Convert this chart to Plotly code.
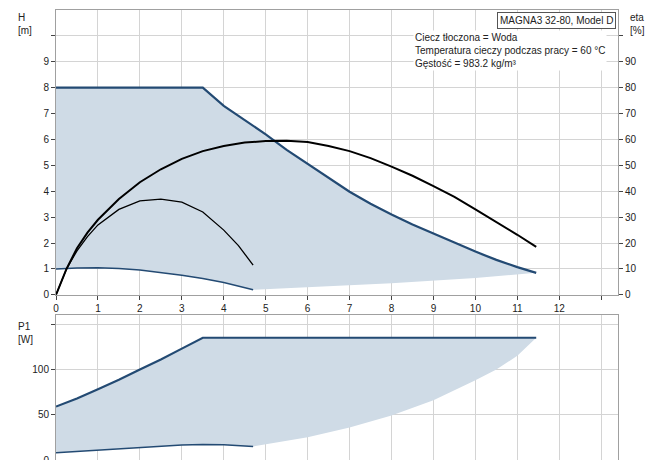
import plotly.graph_objects as go
from plotly.subplots import make_subplots

q_max = [0, 3.5, 4, 4.5, 5, 5.5, 6, 6.5, 7, 7.5, 8, 8.5, 9, 9.5, 10, 10.5, 11, 11.45]
h_max = [8, 8, 7.3, 6.75, 6.2, 5.6, 5.05, 4.5, 3.98, 3.52, 3.1, 2.72, 2.36, 2.0, 1.67, 1.35, 1.07, 0.85]
q_min = [0, 0.5, 1, 1.5, 2, 2.5, 3, 3.5, 4, 4.7]
h_min = [1.0, 1.04, 1.05, 1.02, 0.96, 0.87, 0.76, 0.63, 0.48, 0.2]
q_low = [4.7, 6, 8, 10, 11.45]
h_low = [0.2, 0.3, 0.45, 0.65, 0.85]
q_eta = [0, 0.25, 0.5, 0.75, 1, 1.5, 2, 2.5, 3, 3.5, 4, 4.5, 5, 5.5, 6, 6.5, 7, 7.5, 8, 8.5, 9, 9.5, 10, 10.5, 11, 11.45]
eta_max = [0, 10, 18, 24, 29, 37, 43.5, 48.5, 52.5, 55.5, 57.5, 58.8, 59.4, 59.5, 59, 57.5, 55.5, 52.8, 49.5, 46, 42, 37.8, 33, 28.2, 23.2, 18.5]
q_eta2 = [0, 0.25, 0.5, 0.75, 1, 1.5, 2, 2.5, 3, 3.5, 4, 4.35, 4.7]
eta_min = [0, 10, 17, 22.5, 27, 33, 36.3, 37, 35.8, 32, 25, 19, 11.5]
q_pmax = [0, 0.5, 1, 1.5, 2, 2.5, 3, 3.5, 11.45]
p_max = [59, 68, 78, 88.5, 100, 111, 123, 135, 135]
q_pmin = [0, 1, 2, 3, 3.5, 4, 4.7]
p_min = [8, 11, 14, 16.5, 17, 16.8, 15]
q_plow = [4.7, 6, 7, 8, 9, 10, 10.5, 11, 11.45]
p_low = [15, 25, 36, 49, 66, 88, 100, 115, 135]

LINE = "#234a73"
FILL = "#cfdbe6"
fig = make_subplots(rows=2, cols=1, specs=[[{"secondary_y": True}], [{}]])

fx = q_max + q_low[::-1] + q_min[::-1]
fy = h_max + h_low[::-1] + h_min[::-1]
fig.add_trace(go.Scatter(x=fx, y=fy, fill="toself", fillcolor=FILL, line=dict(width=0), mode="lines"), row=1, col=1)
fig.add_trace(go.Scatter(x=q_max, y=h_max, mode="lines", line=dict(color=LINE, width=2.2)), row=1, col=1)
fig.add_trace(go.Scatter(x=q_min, y=h_min, mode="lines", line=dict(color=LINE, width=1.5)), row=1, col=1)
fig.add_trace(go.Scatter(x=q_eta, y=eta_max, mode="lines", line=dict(color="black", width=2)), row=1, col=1, secondary_y=True)
fig.add_trace(go.Scatter(x=q_eta2, y=eta_min, mode="lines", line=dict(color="black", width=1.3)), row=1, col=1, secondary_y=True)

px = q_pmax + q_plow[::-1] + q_pmin[::-1]
py = p_max + p_low[::-1] + p_min[::-1]
fig.add_trace(go.Scatter(x=px, y=py, fill="toself", fillcolor=FILL, line=dict(width=0), mode="lines"), row=2, col=1)
fig.add_trace(go.Scatter(x=q_pmax, y=p_max, mode="lines", line=dict(color=LINE, width=2.2)), row=2, col=1)
fig.add_trace(go.Scatter(x=q_pmin, y=p_min, mode="lines", line=dict(color=LINE, width=1.5)), row=2, col=1)

grid = dict(showgrid=True, gridcolor="#d4d4d4", gridwidth=1, showline=True, linecolor="#a0a0a0", mirror=True, zeroline=False,
            tickfont=dict(size=10, color="#222"), ticklen=4, tickcolor="#444", automargin=False)
fig.update_layout(
    width=656, height=460, showlegend=False, plot_bgcolor="white", paper_bgcolor="white",
    margin=dict(l=48, r=46, t=2, b=8), font=dict(family="Liberation Sans, Arial", size=10, color="#222"),
    xaxis=dict(domain=[0, 1], range=[0, 13.4], tickvals=list(range(14)), ticktext=[str(i) for i in range(13)] + [""], ticks="outside", **grid),
    yaxis=dict(domain=[0.367, 1], range=[0, 11], tickvals=list(range(11)), ticktext=[str(i) for i in range(10)] + [""], ticks="outside", **grid),
    yaxis2=dict(range=[0, 110], tickvals=list(range(0, 110, 10)), ticktext=[str(i) for i in range(0, 100, 10)] + [""], overlaying="y", side="right",
                showgrid=False, showline=False, zeroline=False, ticks="outside", ticklen=4, tickfont=dict(size=10, color="#222"), automargin=False),
    xaxis2=dict(domain=[0, 1], range=[0, 13.4], tickvals=list(range(14)), showticklabels=False, anchor="y3", ticks="", **grid),
    yaxis3=dict(domain=[0, 0.322], range=[0, 160], tickvals=[0, 50, 100, 150], ticktext=["0", "50", "100", ""], anchor="x2", ticks="outside", **grid),
)
anns = [
    dict(x=0, y=1, xref="paper", yref="paper", text="H<br>[m]", xshift=-40, yshift=0, xanchor="left", yanchor="top", showarrow=False, align="left"),
    dict(x=1, y=1, xref="paper", yref="paper", text="eta<br>[%]", xshift=10, xanchor="left", yanchor="top", showarrow=False, align="left"),
    dict(x=0, y=0.322, xref="paper", yref="paper", text="P1<br>[W]", xshift=-40, yshift=-4, xanchor="left", yanchor="top", showarrow=False, align="left"),
    dict(x=13.45, y=0, xref="x", yref="y", text="Q [m³/h]", yshift=-12, xanchor="right", yanchor="middle", showarrow=False),
    dict(x=1, y=1, xref="paper", yref="paper", text="MAGNA3 32-80, Model D", xshift=-2, yshift=-2, xanchor="right", yanchor="top",
         showarrow=False, bgcolor="white", bordercolor="#555", borderwidth=1, borderpad=2),
    dict(x=0.635, y=0.955, xref="paper", yref="paper", text="Ciecz tłoczona = Woda<br>Temperatura cieczy podczas pracy = 60 °C<br>Gęstość = 983.2 kg/m³",
         xanchor="left", yanchor="top", showarrow=False, align="left", bgcolor="white"),
]
fig.update_layout(annotations=anns)
fig.write_html("out.html")
